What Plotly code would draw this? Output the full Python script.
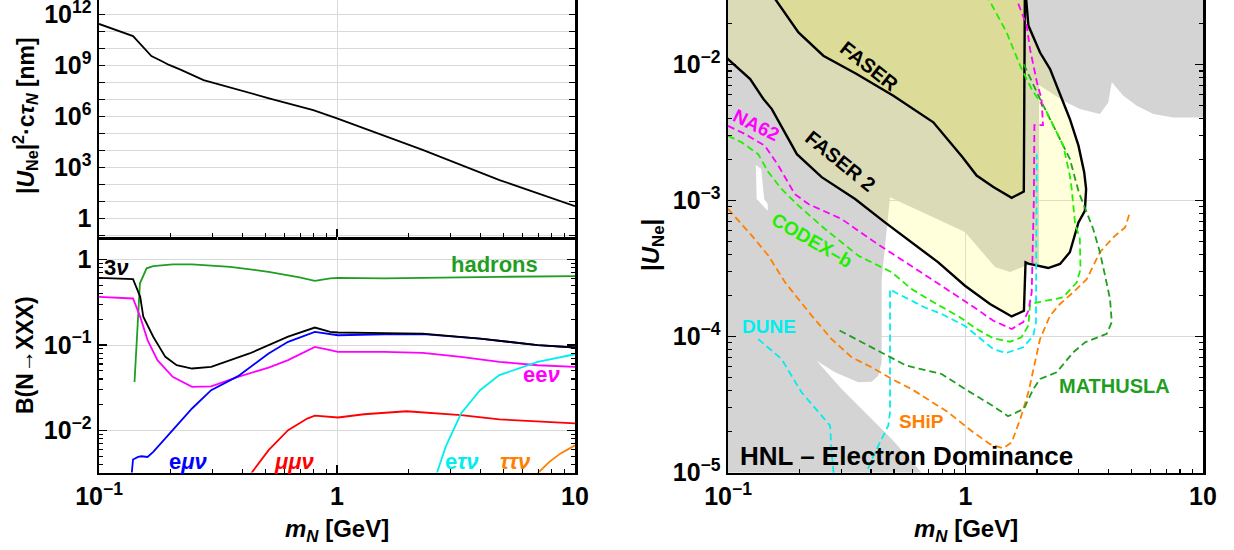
import math
import plotly.graph_objects as go

# ---------------- data: top-left panel (|U_Ne|^2 * c tau_N) ----------------
mass_ctau = [0.1, 0.139, 0.146, 0.1545, 0.166, 0.183, 0.197, 0.22, 0.275, 0.518, 0.795, 1.0, 2.29, 4.82, 10]
ctau_nm = [2.7e11, 5.2e10, 2.45e10, 1.0e10, 3.5e9, 1.8e9, 1.05e9, 5.5e8, 1.35e8, 1.15e7, 2.3e6, 7.6e5, 1.05e4, 178, 5.2]

# ---------------- data: lower-left panel (branching ratios) ----------------
m_3nu = [0.1, 0.139, 0.149, 0.1535, 0.169, 0.19, 0.212, 0.246, 0.296, 0.429, 0.623, 0.807, 0.937, 1.01, 1.58, 2.29, 3.99, 6.97, 10]
B_3nu = [0.61, 0.59, 0.366, 0.214, 0.125, 0.0727, 0.058, 0.0531, 0.0556, 0.0796, 0.125, 0.160, 0.1425, 0.140, 0.138, 0.136, 0.119, 0.0995, 0.0935]

m_had = [0.141, 0.1486, 0.1585, 0.169, 0.204, 0.246, 0.356, 0.516, 0.696, 0.807, 0.937, 1.01, 1.58, 2.29, 4.81, 10]
B_had = [0.037, 0.527, 0.789, 0.836, 0.875, 0.875, 0.82, 0.717, 0.616, 0.563, 0.60, 0.61, 0.60, 0.61, 0.627, 0.638]

m_eenu = [0.1, 0.139, 0.149, 0.16, 0.176, 0.204, 0.246, 0.296, 0.384, 0.516, 0.623, 0.807, 0.937, 1.01, 1.58, 2.29, 3.32, 4.81, 6.97, 10]
B_eenu = [0.366, 0.35, 0.213, 0.114, 0.0665, 0.0425, 0.0324, 0.0328, 0.0425, 0.0545, 0.0665, 0.0952, 0.087, 0.0832, 0.083, 0.081, 0.0727, 0.0636, 0.058, 0.0556]

m_emunu = [0.137, 0.139, 0.146, 0.151, 0.16, 0.169, 0.204, 0.246, 0.296, 0.384, 0.516, 0.623, 0.807, 0.937, 1.01, 1.58, 2.29, 3.99, 6.97, 10]
B_emunu = [0.003, 0.00458, 0.00492, 0.0050, 0.0049, 0.00563, 0.0101, 0.0181, 0.0296, 0.0432, 0.0796, 0.109, 0.1425, 0.134, 0.130, 0.133, 0.134, 0.119, 0.0995, 0.0935]

m_mumunu = [0.43, 0.516, 0.623, 0.75, 0.807, 0.937, 1.01, 1.3, 1.96, 3.32, 4.81, 10]
B_mumunu = [0.003, 0.0059, 0.0101, 0.0138, 0.0149, 0.0145, 0.0142, 0.0155, 0.0168, 0.0151, 0.0135, 0.0121]

m_etaunu = [2.61, 2.86, 3.32, 3.99, 4.81, 6.97, 10]
B_etaunu = [0.003, 0.00644, 0.0158, 0.0296, 0.0444, 0.0636, 0.078]

m_tautaunu = [6.84, 7.8, 8.7, 10]
B_tautaunu = [0.003, 0.0043, 0.0054, 0.0067]

# ---------------- data: right panel (|U_Ne| sensitivity) ----------------
gray_m = [0.09, 0.654, 0.489, 0.3776, 0.301, 0.2362, 0.282, 0.3537, 0.4027, 0.4295, 0.4436, 0.4436, 0.481, 0.995,
          1.331, 1.54, 1.78, 2.04, 2.04, 2.58, 3.03, 3.68, 3.99, 4.13, 4.62, 5.26, 6.18, 7.5, 11, 11, 0.09]
gray_U = [1e-5, 1e-5, 1.77e-5, 2.78e-5, 4.12e-5, 6.67e-5, 5.47e-5, 4.62e-5, 4.67e-5, 5.16e-5, 6.48e-5, 2.65e-4, 1.06e-3, 5.89e-4,
          3.25e-4, 2.99e-4, 3.31e-4, 3.43e-4, 7.1e-3, 5.43e-3, 4.72e-3, 4.34e-3, 5.28e-3, 7.43e-3, 5.91e-3, 5.0e-3, 4.34e-3, 4.1e-3, 4.1e-3, 0.05, 0.05]

gap_m = [0.131, 0.138, 0.142, 0.147, 0.147, 0.132]
gap_U = [1.83e-3, 1.71e-3, 1.03e-3, 9.46e-4, 8.43e-4, 1.03e-3]

faser2_m = [0.098, 0.1, 0.124, 0.132, 0.141, 0.153, 0.174, 0.195, 0.248, 0.343, 0.458, 0.593, 0.768, 0.995, 1.268, 1.565,
            1.762, 1.79, 1.84, 2.23, 2.5, 2.75, 2.89, 2.99, 3.18, 3.22, 3.16, 2.99, 2.75, 2.54, 2.27, 2.06, 1.90, 1.84, 1.80, 1.79, 0.098]
faser2_U = [0.0115, 0.011, 7.85e-3, 6.6e-3, 5.6e-3, 4.72e-3, 3.19e-3, 2.2e-3, 1.49e-3, 1.03e-3, 6.93e-4, 4.94e-4, 3.52e-4, 2.37e-4, 1.74e-4, 1.41e-4,
            1.55e-4, 3.52e-4, 3.45e-4, 3.2e-4, 3.43e-4, 4.18e-4, 5.53e-4, 6.93e-4, 8.43e-4, 1.22e-3, 1.62e-3, 2.54e-3, 3.99e-3, 5.6e-3, 9.3e-3, 0.0123, 0.0173, 0.0194, 0.0305, 0.05, 0.05]

faser_m = [0.145, 0.158, 0.198, 0.252, 0.348, 0.497, 0.732, 0.97, 1.114, 1.31, 1.565, 1.75, 1.76, 1.78, 0.145]
faser_U = [0.05, 0.0304, 0.0173, 0.01165, 8.54e-3, 5.91e-3, 3.77e-3, 2.1e-3, 1.53e-3, 1.26e-3, 1.05e-3, 1.16e-3, 1.17e-3, 0.05, 0.05]

na62_m = [0.1, 0.118, 0.143, 0.163, 0.191, 0.218, 0.301, 0.416, 0.574, 0.794, 0.948, 1.114, 1.31, 1.565, 1.75, 1.84, 1.90,
          1.94, 1.95, 2.12, 2.09, 2.0, 1.87, 1.81, 1.58]
na62_U = [3.55e-3, 3.09e-3, 2.54e-3, 1.81e-3, 1.12e-3, 9.46e-4, 7.33e-4, 4.94e-4, 3.43e-4, 2.37e-4, 1.95e-4, 1.6e-4, 1.31e-4, 1.14e-4, 1.28e-4, 1.55e-4, 2.12e-4,
          1.03e-3, 3.6e-3, 3.6e-3, 5.6e-3, 7.4e-3, 0.013, 0.0194, 0.036]

codex_m = [0.1, 0.114, 0.134, 0.148, 0.168, 0.198, 0.256, 0.354, 0.489, 0.593, 0.734, 0.948, 1.114, 1.31, 1.54, 1.72, 1.84, 1.87,
           2.19, 2.58, 2.94, 3.05, 3.03, 2.89, 2.80, 2.75, 2.58, 2.20, 1.90, 1.70, 1.49, 1.25]
codex_U = [3.0e-3, 2.69e-3, 2.2e-3, 1.62e-3, 1.22e-3, 9.2e-4, 6.2e-4, 3.94e-4, 2.98e-4, 2.24e-4, 1.79e-4, 1.39e-4, 1.14e-4, 9.73e-5, 9.19e-5, 9.9e-5, 1.21e-4, 1.74e-4,
           1.84e-4, 1.95e-4, 2.51e-4, 3.15e-4, 5.22e-4, 6.93e-4, 1.22e-3, 1.53e-3, 2.54e-3, 4.47e-3, 6.6e-3, 9.8e-3, 0.0173, 0.0305]

mathusla_m = [0.295, 0.416, 0.564, 0.793, 0.996, 1.30, 1.51, 1.76, 1.93, 2.06, 2.42, 2.84, 3.19, 3.45, 3.93, 4.13, 4.06, 3.87,
              3.68, 3.45, 3.2, 3.0, 2.75, 2.42, 2.06, 1.74]
mathusla_U = [1.11e-4, 8.13e-5, 6.13e-5, 5.32e-5, 4.12e-5, 3.11e-5, 2.6e-5, 2.94e-5, 4.12e-5, 4.89e-5, 5.47e-5, 7.67e-5, 9.1e-5, 9.6e-5, 1.05e-4, 1.28e-4, 1.89e-4, 2.81e-4,
              4.18e-4, 6.2e-4, 8.7e-4, 1.15e-3, 2.03e-3, 3.19e-3, 5.6e-3, 0.0105]

ship_m = [0.1, 0.126, 0.148, 0.174, 0.198, 0.225, 0.273, 0.332, 0.403, 0.489, 0.593, 0.721, 0.84, 1.08, 1.27, 1.44, 1.565,
          1.70, 1.84, 2.06, 2.27, 2.50, 2.84, 3.24, 3.68, 4.19, 4.70, 4.90]
ship_U = [8.7e-4, 5.53e-4, 3.94e-4, 2.51e-4, 1.89e-4, 1.43e-4, 9.6e-5, 7.05e-5, 5.95e-5, 4.89e-5, 4.12e-5, 3.3e-5, 2.8e-5, 1.98e-5, 1.62e-5, 1.51e-5, 1.67e-5,
          2.48e-5, 3.9e-5, 9.6e-5, 1.43e-4, 1.74e-4, 2.12e-4, 2.65e-4, 4.18e-4, 5.38e-4, 6.37e-4, 7.98e-4]

dune_m = [0.134, 0.168, 0.204, 0.256, 0.269, 0.273, 0.28, None,
          0.372, 0.416, 0.473, 0.481, 0.481, 0.505, 0.675, 0.794, 0.995, 1.114, 1.31, 1.48, 1.75, 1.93, 1.98, 1.995]
dune_U = [9.6e-5, 6.86e-5, 3.9e-5, 2.48e-5, 2.22e-5, 1.41e-5, 0.9e-5, None,
          0.9e-5, 1.41e-5, 2.22e-5, 2.78e-5, 2.24e-4, 2.12e-4, 1.64e-4, 1.47e-4, 1.2e-4, 1.02e-4, 8.1e-5, 7.58e-5, 8.36e-5, 1.02e-4, 1.28e-4, 2.2e-3]

# tick labels
x_major = [0.1, 1, 10]
x_labels = ["10<sup>\u22121</sup>", "1", "10"]
x_minor = [0.2, 0.3, 0.4, 0.5, 0.6, 0.7, 0.8, 0.9, 2, 3, 4, 5, 6, 7, 8, 9]
ct_major = [1e-1, 1, 1e1, 1e2, 1e3, 1e4, 1e5, 1e6, 1e7, 1e8, 1e9, 1e10, 1e11, 1e12]
ct_labels = ["", "1", "", "", "10<sup>3</sup>", "", "", "10<sup>6</sup>", "", "", "10<sup>9</sup>", "", "", "10<sup>12</sup>"]
br_major = [0.01, 0.1, 1]
br_labels = ["10<sup>\u22122</sup>", "10<sup>\u22121</sup>", "1"]
br_minor = [0.004, 0.005, 0.006, 0.007, 0.008, 0.009, 0.02, 0.03, 0.04, 0.05, 0.06, 0.07, 0.08, 0.09,
            0.2, 0.3, 0.4, 0.5, 0.6, 0.7, 0.8, 0.9]
u_major = [1e-5, 1e-4, 1e-3, 1e-2]
u_labels = ["10<sup>\u22125</sup>", "10<sup>\u22124</sup>", "10<sup>\u22123</sup>", "10<sup>\u22122</sup>"]
u_minor = [2e-5, 3e-5, 4e-5, 5e-5, 6e-5, 7e-5, 8e-5, 9e-5, 2e-4, 3e-4, 4e-4, 5e-4, 6e-4, 7e-4, 8e-4, 9e-4,
           2e-3, 3e-3, 4e-3, 5e-3, 6e-3, 7e-3, 8e-3, 9e-3, 2e-2]

# ---------------- styling ----------------
W, H = 1234, 550
FONT = "Liberation Sans"
GRID = "#d9d9d9"
GREEN = "#1f9e1f"
MAGENTA = "#ff00ff"
BLUE = "#0000ff"
RED = "#ff0000"
CYAN = "#00eeee"
ORANGE = "#ff8000"
LIME = "#22ee00"
TICKFONT = dict(family=FONT, size=25, color="black", weight="bold")

LX = [99 / W, 575 / W]
RX = [728 / W, 1203 / W]
TOP_Y = [1 - 237 / H, 1.0]
LOW_Y = [1 - 472.5 / H, 1 - 237 / H]
R_Y = [1 - 472.7 / H, 1.0]

fig = go.Figure()


def line(x, y, color, xa, ya, width=1.8, dash=None):
    fig.add_trace(go.Scatter(x=x, y=y, mode="lines", xaxis=xa, yaxis=ya,
                             line=dict(color=color, width=width, dash=dash),
                             hoverinfo="skip", showlegend=False))


# top-left
line(mass_ctau, ctau_nm, "black", "x", "y", width=1.8)

# lower-left
line(m_had, B_had, GREEN, "x2", "y2")
line(m_eenu, B_eenu, MAGENTA, "x2", "y2")
line(m_mumunu, B_mumunu, RED, "x2", "y2")
line(m_etaunu, B_etaunu, CYAN, "x2", "y2")
line(m_tautaunu, B_tautaunu, ORANGE, "x2", "y2")
line(m_emunu, B_emunu, BLUE, "x2", "y2")
line(m_3nu, B_3nu, "black", "x2", "y2")

# right panel regions
fig.add_trace(go.Scatter(x=gray_m, y=gray_U, mode="lines", fill="toself", fillcolor="#d4d4d4",
                         line=dict(width=0, color="#d4d4d4"), xaxis="x3", yaxis="y3", hoverinfo="skip", showlegend=False))
fig.add_trace(go.Scatter(x=gap_m, y=gap_U, mode="lines", fill="toself", fillcolor="white",
                         line=dict(width=0, color="white"), xaxis="x3", yaxis="y3", hoverinfo="skip", showlegend=False))
fig.add_trace(go.Scatter(x=faser2_m, y=faser2_U, mode="lines", fill="toself", fillcolor="rgba(255,255,40,0.16)",
                         line=dict(width=2.4, color="black"), xaxis="x3", yaxis="y3", hoverinfo="skip", showlegend=False))
fig.add_trace(go.Scatter(x=faser_m, y=faser_U, mode="lines", fill="toself", fillcolor="#dcdc98",
                         line=dict(width=2.4, color="black"), xaxis="x3", yaxis="y3", hoverinfo="skip", showlegend=False))

DASH = "7px,4px"
line(dune_m, dune_U, CYAN, "x3", "y3", width=1.8, dash=DASH)
line(ship_m, ship_U, ORANGE, "x3", "y3", width=1.8, dash=DASH)
line(mathusla_m, mathusla_U, GREEN, "x3", "y3", width=1.8, dash=DASH)
line(codex_m, codex_U, LIME, "x3", "y3", width=1.8, dash=DASH)
line(na62_m, na62_U, MAGENTA, "x3", "y3", width=1.8, dash=DASH)


def xaxis_cfg(domain, anchor, labels, mirror):
    return dict(domain=domain, anchor=anchor, type="log", range=[-1, 1], automargin=False,
                ticklabeloverflow="allow",
                tickmode="array", tickvals=x_major, ticktext=x_labels, showticklabels=labels,
                ticks="inside", ticklen=8, tickwidth=1.3, tickcolor="black",
                showline=True, linewidth=2.5, linecolor="black", mirror=mirror,
                showgrid=True, gridcolor=GRID, gridwidth=1, zeroline=False, tickfont=TICKFONT,
                minor=dict(tickmode="array", tickvals=x_minor, ticks="inside", ticklen=4,
                           tickwidth=1.1, tickcolor="black", showgrid=False))


def yaxis_cfg(domain, anchor, rng, major, labels, minor, ticklen=8):
    cfg = dict(domain=domain, anchor=anchor, type="log", range=rng, automargin=False,
               ticklabeloverflow="allow",
               tickmode="array", tickvals=major, ticktext=labels,
               ticks="inside", ticklen=ticklen, tickwidth=1.3, tickcolor="black",
               showline=True, linewidth=2.5, linecolor="black", mirror="allticks",
               showgrid=True, gridcolor=GRID, gridwidth=1, zeroline=False, tickfont=TICKFONT)
    if minor:
        cfg["minor"] = dict(tickmode="array", tickvals=minor, ticks="inside", ticklen=4,
                            tickwidth=1.1, tickcolor="black", showgrid=False)
    return cfg


fig.update_layout(
    template="none",
    width=W, height=H, autosize=False,
    margin=dict(l=0, r=0, t=0, b=0, pad=0, autoexpand=False),
    paper_bgcolor="white", plot_bgcolor="white",
    font=dict(family=FONT, color="black"),
    showlegend=False,
    xaxis=xaxis_cfg(LX, "y", False, False),
    yaxis=yaxis_cfg(TOP_Y, "x", [-1.1, 12.84], ct_major, ct_labels, None, ticklen=6),
    xaxis2=xaxis_cfg(LX, "y2", True, False),
    yaxis2=yaxis_cfg(LOW_Y, "x2", [-2.491, 0.263], br_major, br_labels, br_minor),
    xaxis3=xaxis_cfg(RX, "y3", True, False),
    yaxis3=yaxis_cfg(R_Y, "x3", [-5.0, -1.524], u_major, u_labels, u_minor),
)

ann = []
lower_labels = [
    ("<b>3<i>\u03bd</i></b>", 0.118, 0.817, "black"),
    ("<b>hadrons</b>", 4.57, 0.885, GREEN),
    ("<b>ee<i>\u03bd</i></b>", 7.2, 0.0446, MAGENTA),
    ("<b>e<i>\u03bc\u03bd</i></b>", 0.2366, 0.00434, BLUE),
    ("<b><i>\u03bc\u03bc\u03bd</i></b>", 0.662, 0.00434, RED),
    ("<b>e<i>\u03c4\u03bd</i></b>", 3.34, 0.00434, CYAN),
    ("<b><i>\u03c4\u03c4\u03bd</i></b>", 5.63, 0.00434, ORANGE),
]
for txt, mx, by, col in lower_labels:
    ann.append(dict(text=txt, x=math.log10(mx), y=math.log10(by), xref="x2", yref="y2",
                    xanchor="center", yanchor="middle",
                    showarrow=False, font=dict(family=FONT, size=22, color=col)))

right_labels = [
    ("<b>FASER</b>", 0.3926, 0.00984, "black", 38, 20),
    ("<b>FASER 2</b>", 0.298, 1.97e-3, "black", 39, 20),
    ("<b>NA62</b>", 0.1324, 3.6e-3, MAGENTA, 26, 19),
    ("<b>CODEX\u2013b</b>", 0.226, 5.08e-4, LIME, 30, 19),
    ("<b>DUNE</b>", 0.149, 1.19e-4, CYAN, 0, 19),
    ("<b>SHiP</b>", 0.654, 2.37e-5, ORANGE, 0, 19),
    ("<b>MATHUSLA</b>", 4.22, 4.36e-5, GREEN, 0, 20),
]
for txt, mx, uy, col, ang, sz in right_labels:
    ann.append(dict(text=txt, x=math.log10(mx), y=math.log10(uy), xref="x3", yref="y3",
                    xanchor="center", yanchor="middle",
                    showarrow=False, textangle=ang, font=dict(family=FONT, size=sz, color=col)))

ann.append(dict(text="<b>HNL \u2013 Electron Dominance</b>", x=math.log10(0.1097), y=math.log10(1.32e-5),
                xref="x3", yref="y3", xanchor="left", yanchor="middle", showarrow=False,
                font=dict(family=FONT, size=26, color="black")))

# axis titles
ann.append(dict(text="<b>|<i>U</i><sub>Ne</sub>|<sup>2</sup>\u00b7c<i>\u03c4</i><sub><i>N</i></sub> [nm]</b>",
                x=25 / W, y=1 - 116 / H, xref="paper", yref="paper", textangle=-90, showarrow=False,
                xanchor="center", yanchor="middle",
                font=dict(family=FONT, size=23, color="black")))
ann.append(dict(text="<b>B(N\u2192XXX)</b>", x=25 / W, y=1 - 355 / H, xref="paper", yref="paper",
                xanchor="center", yanchor="middle",
                textangle=-90, showarrow=False, font=dict(family=FONT, size=23, color="black")))
ann.append(dict(text="<b>|<i>U</i><sub>Ne</sub>|</b>", x=652 / W, y=1 - 245 / H, xref="paper", yref="paper",
                xanchor="center", yanchor="middle",
                textangle=-90, showarrow=False, font=dict(family=FONT, size=24, color="black")))
for cx in (337, 966):
    ann.append(dict(text="<b><i>m</i><sub><i>N</i></sub> [GeV]</b>", x=cx / W, y=1 - 530 / H,
                    xref="paper", yref="paper", showarrow=False, xanchor="center", yanchor="middle",
                    font=dict(family=FONT, size=24, color="black")))

fig.update_layout(annotations=ann)
fig.write_html("out.html", config={"displayModeBar": False, "staticPlot": True},
               post_script="document.body.style.margin='0px';document.body.style.overflow='hidden';")
